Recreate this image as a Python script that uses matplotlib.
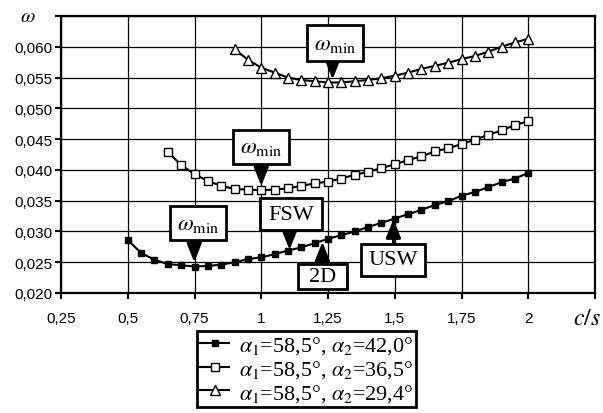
import numpy as np
import matplotlib
matplotlib.use("Agg")
import matplotlib.pyplot as plt
from matplotlib.patches import Rectangle

plt.rcParams['mathtext.fontset'] = 'stix'
plt.rcParams['font.family'] = ['Liberation Serif', 'DejaVu Serif']

# c/s values (step 0.05)
x1 = np.round(np.arange(0.50, 2.0001, 0.05), 2)
y1 = [0.0286, 0.0265, 0.0254, 0.0247, 0.0245, 0.0243, 0.0244, 0.0246, 0.0250, 0.0255,
      0.0258, 0.0263, 0.0269, 0.0274, 0.0281, 0.0288, 0.0294, 0.0300, 0.0307, 0.0314,
      0.0321, 0.0328, 0.0335, 0.0343, 0.0349, 0.0358, 0.0364, 0.0372, 0.0380, 0.0386,
      0.0395]

x2 = np.round(np.arange(0.65, 2.0001, 0.05), 2)
y2 = [0.0429, 0.0408, 0.0393, 0.0382, 0.0374, 0.0369, 0.0368, 0.0367, 0.0368, 0.0370,
      0.0374, 0.0378, 0.0381, 0.0386, 0.0392, 0.0397, 0.0403, 0.0409, 0.0416, 0.0422,
      0.0430, 0.0435, 0.0442, 0.0449, 0.0457, 0.0464, 0.0473, 0.0479]

x3 = np.round(np.arange(0.90, 2.0001, 0.05), 2)
y3 = [0.0596, 0.0579, 0.0566, 0.0558, 0.0550, 0.0546, 0.0544, 0.0542, 0.0542, 0.0544,
      0.0546, 0.0549, 0.0553, 0.0558, 0.0564, 0.0569, 0.0574, 0.0580, 0.0585, 0.0592,
      0.0600, 0.0607, 0.0613]

labels = [r'$\alpha_1$=58,5°, $\alpha_2$=42,0°',
          r'$\alpha_1$=58,5°, $\alpha_2$=36,5°',
          r'$\alpha_1$=58,5°, $\alpha_2$=29,4°']

xticks = [0.25, 0.5, 0.75, 1.0, 1.25, 1.5, 1.75, 2.0, 2.25]
xticklabels = ['0,25', '0,5', '0,75', '1', '1,25', '1,5', '1,75', '2', '']
yticks = [0.020, 0.025, 0.030, 0.035, 0.040, 0.045, 0.050, 0.055, 0.060, 0.065]
yticklabels = ['0,020', '0,025', '0,030', '0,035', '0,040', '0,045', '0,050', '0,055', '0,060', '']

# annotation boxes: text, box (x0, x1, y0, y1), arrow x, arrow tail y, arrow tip y
notes = [
    (r'$\omega_{\mathrm{min}}$', (1.171, 1.381, 0.0577, 0.0635), 1.267, 0.0577, 0.0547),
    (r'$\omega_{\mathrm{min}}$', (0.894, 1.104, 0.0410, 0.0465), 1.0, 0.0410, 0.0374),
    (r'$\omega_{\mathrm{min}}$', (0.658, 0.868, 0.0286, 0.0341), 0.749, 0.0286, 0.0250),
    ('FSW', (0.995, 1.228, 0.0302, 0.0354), 1.106, 0.0302, 0.0270),
    ('2D', (1.138, 1.321, 0.0206, 0.0247), 1.229, 0.0247, 0.0283),
    ('USW', (1.374, 1.613, 0.0228, 0.0280), 1.495, 0.0280, 0.0320),
]

fig = plt.figure(figsize=(6.03, 4.14), dpi=100)
ax = fig.add_axes([61/603, 1-294/414, (595-61)/603, (294-17)/414])

ax.plot(x1, y1, color='black', lw=1.5, marker='s', ms=5, mfc='black', mec='black', label=labels[0])
ax.plot(x2, y2, color='black', lw=1.5, marker='s', ms=5.5, mfc='white', mec='black', mew=1, label=labels[1])
ax.plot(x3, y3, color='black', lw=1.5, marker='^', ms=6.5, mfc='white', mec='black', mew=1, label=labels[2])

ax.set_xlim(0.25, 2.25)
ax.set_ylim(0.020, 0.065)
ax.set_xticks(xticks)
ax.set_xticklabels(xticklabels, family='Liberation Sans', fontsize=11)
ax.set_yticks(yticks)
ax.set_yticklabels(yticklabels, family='Liberation Sans', fontsize=11)
ax.tick_params(axis='x', direction='out', length=4, width=1.5, pad=9)
ax.tick_params(axis='y', direction='out', length=4, width=1.5, pad=2)
ax.grid(True, color='black', lw=0.9)
for s in ax.spines.values():
    s.set_linewidth(1.6)

for txt, (bx0, bx1, by0, by1), ax_x, tail, tip in notes:
    ax.annotate('', xy=(ax_x, tip), xytext=(ax_x, tail),
                arrowprops=dict(arrowstyle='-|>,head_length=0.75,head_width=0.3',
                                color='black', lw=2, mutation_scale=15,
                                shrinkA=0, shrinkB=0), zorder=5)
    ax.add_patch(Rectangle((bx0, by0), bx1 - bx0, by1 - by0, fc='white', ec='black',
                           lw=2, zorder=6))
    fs = 16.5 if txt.startswith('$') else 16
    ax.text((bx0 + bx1) / 2, (by0 + by1) / 2, txt, ha='center', va='center',
            fontsize=fs, zorder=7)

fig.text(28/603, 1-18/414, r'$\omega$', ha='center', va='center', fontsize=15)
fig.text(587/603, 1-320/414, r'$c/s$', ha='center', va='center', fontsize=17)

leg = fig.legend(loc='upper left', bbox_to_anchor=(197/603, 1-332/414), fontsize=15.9,
                 frameon=True, fancybox=False, edgecolor='black', framealpha=1,
                 handlelength=1.3, handletextpad=0.45, labelspacing=0.08,
                 borderpad=0.15, borderaxespad=0)
leg.get_frame().set_linewidth(2)

fig.savefig('out.png', dpi=100)
